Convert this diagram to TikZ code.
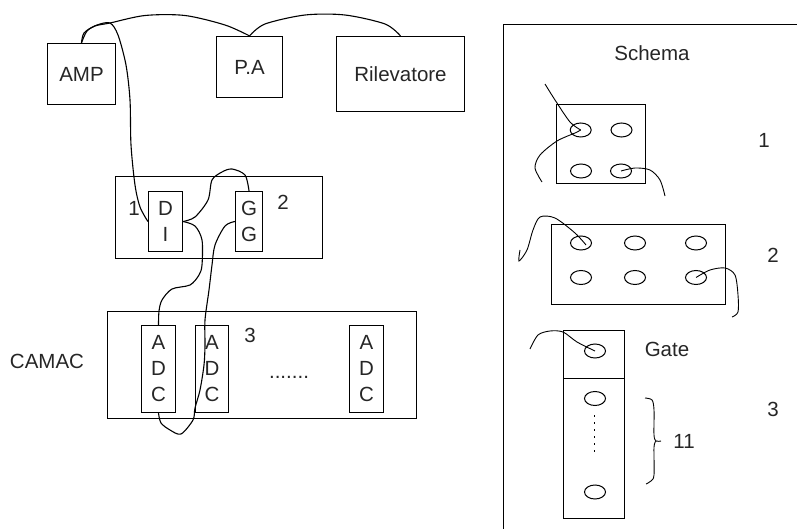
\documentclass[tikz,border=0pt]{standalone}
\usepackage{fontspec}
\setmainfont{Liberation Sans}
\usetikzlibrary{shapes.geometric}
\tikzset{
  bx/.style={draw=black,line width=1.2pt,inner sep=0pt,align=center,font=\fontsize{20.5}{26}\selectfont,text=black!85},
  lbl/.style={inner sep=0pt,font=\fontsize{20.5}{26}\selectfont,text=black!85},
  hole/.style={draw=black,ellipse,line width=1pt,minimum width=21pt,minimum height=14pt,inner sep=0pt},
  wire/.style={line width=1.1pt,black},
  thin wire/.style={line width=.9pt,black}
}
\begin{document}
\begin{tikzpicture}[x=1pt,y=-1pt]
\useasboundingbox (0,0) rectangle (797,529);
% left boxes
\node[bx,minimum width=68pt,minimum height=61pt] (amp) at (81.5,74) {AMP};
\node[bx,minimum width=66pt,minimum height=61pt] (pa) at (249.5,67) {P.A};
\node[bx,minimum width=128pt,minimum height=75pt] (ril) at (400.5,74) {Rilevatore};
\node[bx,minimum width=207pt,minimum height=82pt] (rack) at (219,217.5) {};
\node[bx,minimum width=34pt,minimum height=60pt] (di) at (165.5,221.5) {D\\I};
\node[bx,minimum width=27pt,minimum height=60pt] (gg) at (249,221.5) {G\\G};
\node[bx,minimum width=309pt,minimum height=107pt] (camac) at (262,365) {};
\node[bx,minimum width=34pt,minimum height=87pt] (adca) at (158.5,369) {A\\D\\C};
\node[bx,minimum width=33pt,minimum height=87pt] (adcb) at (212,369) {A\\D\\C};
\node[bx,minimum width=34pt,minimum height=87pt] (adcc) at (366.5,369) {A\\D\\C};
\node[lbl] (n1) at (134,208) {1};
\node[lbl] (n2) at (283,202) {2};
\node[lbl] (n3) at (250,335) {3};
\node[lbl] (cam) at (47,361) {CAMAC};
\node[lbl,anchor=base] (dots) at (289,378) {.......};
% left wires
\draw[wire] plot[smooth] coordinates {(amp.north) (84,33) (95,26) (110,23) (145,15.5) (185,15.5) (225,25) (pa.north)};
\draw[wire] plot[smooth] coordinates {(pa.north) (265,24) (305,15) (345,15) (385,24) (ril.north)};
\draw[wire] plot[smooth] coordinates {(amp.north) (87,31) (97,25) (110,23) (118,35) (126,65) (130,100) (131,145) (135,185) (140,207) (di.west)};
\draw[wire] plot[smooth] coordinates {(di.east) (195,217) (208,200) (212,180) (222,172) (232,169) (245,175) (gg.north)};
\draw[wire] plot[smooth] coordinates {(di.east) (195,226) (202,240) (202,265) (199,275) (190,285) (172,289) (162,300) (159,311) (adca.north)};
\draw[wire] plot[smooth] coordinates {(gg.west) (225,226) (215,245) (212,265) (209,290) (205,320) (205,345) (204,365) (200,390) (195,408) (193,420) (181,434) (170,430) (161,423) (adca.south)};
% right panel
\draw[line width=1.2pt] (503.5,529) -- (503.5,24.5) -- (797,24.5);
\node[lbl] (sch) at (652,53) {Schema};
\node[lbl] (r1) at (764,140) {1};
\node[lbl] (r2) at (773,255) {2};
\node[lbl] (r3) at (773,409) {3};
\node[lbl] (gate) at (667,349) {Gate};
\node[lbl] (r11) at (684,441) {11};
% schema 1
\node[bx,minimum width=89pt,minimum height=79pt] (sa) at (601,144) {};
\node[hole] (a1) at (580.7,130) {};
\node[hole] (a2) at (621.5,130) {};
\node[hole] (a3) at (581,171) {};
\node[hole] (a4) at (621,171) {};
\coordinate (af1) at (545,84);
\coordinate (af2) at (542,182);
\coordinate (af3) at (665,196);
\draw[thin wire] plot[smooth] coordinates {(af1) (555,100) (570,122) (a1.center)};
\draw[thin wire] plot[smooth] coordinates {(a1.center) (575,133) (557,141) (540,155) (535,168) (af2)};
\draw[thin wire] plot[smooth] coordinates {(a4.center) (635,168) (650,170) (660,180) (af3)};
% schema 2
\node[bx,minimum width=174pt,minimum height=80pt] (sb) at (638.5,264.5) {};
\node[hole] (b1) at (581,243) {};
\node[hole] (b2) at (635,243) {};
\node[hole] (b3) at (696,243) {};
\node[hole] (b4) at (581,277.5) {};
\node[hole] (b5) at (635,277.5) {};
\node[hole] (b6) at (696,277.5) {};
\coordinate (bf1) at (520,250);
\coordinate (bf2) at (732,317);
\draw[thin wire] plot[smooth] coordinates {(586,245) (575,233) (555,218) (540,217) (533,230) (527,250) (519,261) (bf1)};
\draw[thin wire] plot[smooth] coordinates {(b6.center) (710,270) (725,268) (735,275) (738,295) (738,312) (bf2)};
% schema 3
\node[bx,minimum width=61pt,minimum height=48pt] (sc) at (594,354.5) {};
\node[bx,minimum width=61pt,minimum height=140pt] (sd) at (594,448.5) {};
\node[hole] (c1) at (595,351) {};
\node[hole] (c2) at (595,398.5) {};
\node[hole] (c3) at (595,492) {};
\coordinate (cf1) at (530,349);
\draw[thin wire] plot[smooth] coordinates {(cf1) (538,335) (550,331) (563,332) (577,342) (c1.center)};
\draw[line width=1pt,dash pattern=on 1.5pt off 5.5pt] (594,415) -- (594,453);
\draw[thin wire] plot[smooth] coordinates {(645,398) (652,400) (654,410) (654,435) (656,441) (661,441)};
\draw[thin wire] plot[smooth] coordinates {(656,441) (654,447) (654,475) (651,481) (646,484)};
\end{tikzpicture}
\end{document}
